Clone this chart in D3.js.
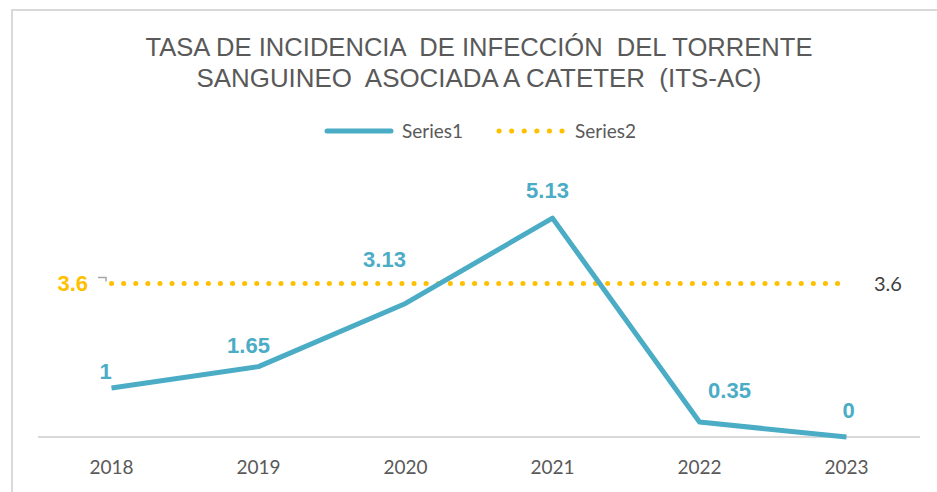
<!DOCTYPE html>
<html lang="es">
<head>
<meta charset="UTF-8">
<title>Tasa de incidencia ITS-AC</title>
<style>
  body { margin: 0; background: #fff; }
  .title { font-family: "Liberation Sans", Arial, sans-serif; font-size: 26px; fill: #595959; text-anchor: middle; }
  .legend text { font-family: Lato, "Open Sans", sans-serif; font-size: 19px; fill: #595959; }
  .axis text { font-family: Lato, "Open Sans", sans-serif; font-size: 19px; fill: #595959; }
  .axis path { stroke: #d9d9d9; stroke-width: 2; }
  .axis line { stroke: none; }
  .lbl { font-family: "Liberation Sans", Arial, sans-serif; font-weight: bold; font-size: 22px; fill: #4bacc6; text-anchor: middle; }
</style>
</head>
<body>
<script src="https://cdn.jsdelivr.net/npm/d3@7/dist/d3.min.js"></script>
<script>
var width = 937, height = 492;
// datos
var years = ["2018", "2019", "2020", "2021", "2022", "2023"];
var series1 = [1.15, 1.65, 3.13, 5.13, 0.35, 0];
var series1Labels = ["1", "1.65", "3.13", "5.13", "0.35", "0"];
var series2 = [3.6, 3.6, 3.6, 3.6, 3.6, 3.6];
var titleLines = ["TASA DE INCIDENCIA  DE INFECCIÓN  DEL TORRENTE", "SANGUINEO  ASOCIADA A CATETER  (ITS-AC)"];

var plot = { left: 38, right: 920, top: 181, bottom: 437 };
// desplazamiento de cada etiqueta respecto a su punto
var nudge = [[-6, -9], [-10, -14], [-21, -36], [-5, -20], [30, -24], [2, -19]];
var titleWidth = [667, 565];

var svg = d3.select("body").append("svg").attr("width", width).attr("height", height);

// marco
svg.append("path")
  .attr("d", "M12," + height + "V10H" + width)
  .attr("fill", "none").attr("stroke", "#d9d9d9").attr("stroke-width", 2);

svg.selectAll(".title").data(titleLines).enter().append("text")
  .attr("class", "title")
  .attr("x", 479).attr("y", function (d, i) { return 56 + i * 31; })
  .attr("textLength", function (d, i) { return titleWidth[i]; })
  .attr("lengthAdjust", "spacingAndGlyphs")
  .style("white-space", "pre")
  .text(function (d) { return d; });

var x = d3.scaleBand().domain(years).range([plot.left, plot.right]);
var y = d3.scaleLinear().domain([0, 6]).range([plot.bottom, plot.top]);
var cx = function (d, i) { return x(years[i]) + x.bandwidth() / 2; };

svg.append("g").attr("class", "axis")
  .attr("transform", "translate(0," + plot.bottom + ")")
  .call(d3.axisBottom(x).tickSize(0).tickPadding(24))
  .select(".domain").attr("d", "M" + plot.left + ",0H" + plot.right);

// serie 2 (meta)
svg.append("path")
  .attr("d", d3.line().x(cx).y(function (d) { return y(d); })(series2))
  .attr("fill", "none").attr("stroke", "#ffc000").attr("stroke-width", 5)
  .attr("stroke-linecap", "round").attr("stroke-dasharray", "0.1 12");

// serie 1
svg.append("path")
  .attr("d", d3.line().x(cx).y(function (d) { return y(d); })(series1))
  .attr("fill", "none").attr("stroke", "#4bacc6").attr("stroke-width", 5)
  .attr("stroke-linejoin", "round");

svg.selectAll(".lbl").data(series1).enter().append("text")
  .attr("class", "lbl")
  .attr("x", function (d, i) { return cx(d, i) + nudge[i][0]; })
  .attr("y", function (d, i) { return y(d) + nudge[i][1]; })
  .text(function (d, i) { return series1Labels[i]; });

// etiquetas de la serie 2
var y36 = y(series2[0]);
svg.append("text")
  .attr("x", 88).attr("y", y36 + 8)
  .attr("text-anchor", "end")
  .style("font-family", "'Liberation Sans', Arial, sans-serif")
  .style("font-weight", "bold").style("font-size", "22px").style("fill", "#ffc000")
  .text(series2[0]);
svg.append("path")
  .attr("d", "M98," + (y36 - 6) + "H106V" + (y36 - 2))
  .attr("fill", "none").attr("stroke", "#a6a6a6").attr("stroke-width", 1.5);
svg.append("text")
  .attr("x", 874).attr("y", y36 + 8)
  .style("font-family", "Lato, 'Open Sans', sans-serif")
  .style("font-size", "20px").style("fill", "#404040")
  .text(series2[5]);

// leyenda
var lg = svg.append("g").attr("class", "legend");
lg.append("line").attr("x1", 327).attr("x2", 391).attr("y1", 131).attr("y2", 131)
  .attr("stroke", "#4bacc6").attr("stroke-width", 5).attr("stroke-linecap", "round");
lg.append("text").attr("x", 402).attr("y", 138).text("Series1");
lg.append("line").attr("x1", 499).attr("x2", 563).attr("y1", 131).attr("y2", 131)
  .attr("stroke", "#ffc000").attr("stroke-width", 5).attr("stroke-linecap", "round")
  .attr("stroke-dasharray", "0.1 12.5");
lg.append("text").attr("x", 575).attr("y", 138).text("Series2");
</script>
</body>
</html>
